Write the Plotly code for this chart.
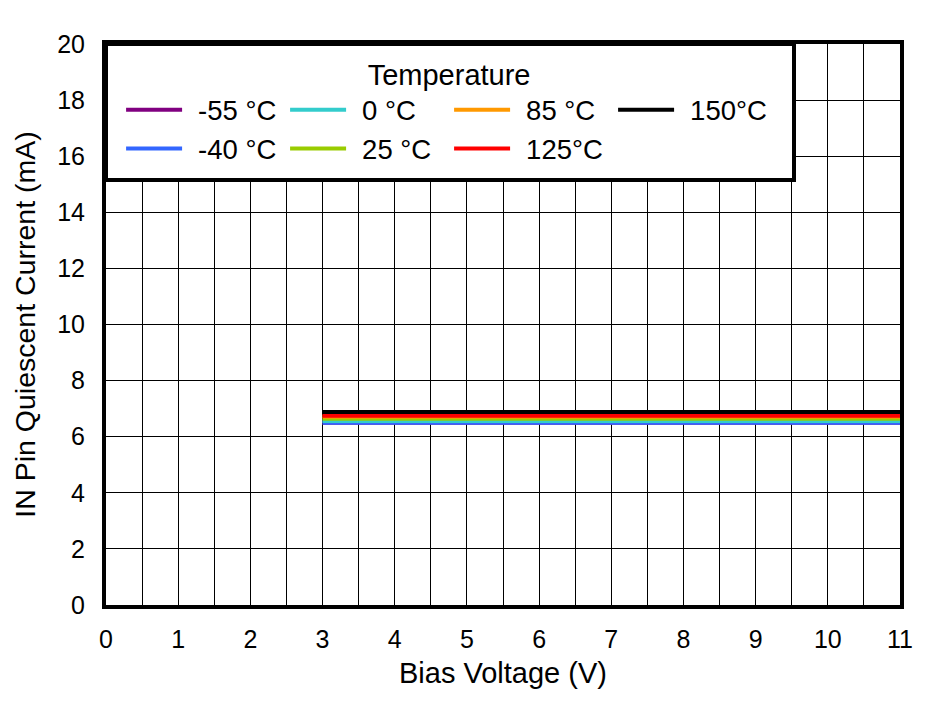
import plotly.graph_objects as go

bias_v = [3, 4, 5, 6, 7, 8, 9, 10, 11]
temps = ["-55 °C", "-40 °C", "0 °C", "25 °C", "85 °C", "125°C", "150°C"]
colors = ["#800080", "#3366FF", "#33CCCC", "#99CC00", "#FF9900", "#FF0000", "#000000"]
iq_m55 = [6.50, 6.50, 6.50, 6.50, 6.50, 6.50, 6.50, 6.50, 6.50]
iq_m40 = [6.50, 6.50, 6.50, 6.50, 6.50, 6.50, 6.50, 6.50, 6.50]
iq_0 = [6.56, 6.56, 6.56, 6.56, 6.56, 6.56, 6.56, 6.56, 6.56]
iq_25 = [6.64, 6.64, 6.64, 6.64, 6.64, 6.64, 6.64, 6.64, 6.64]
iq_85 = [6.71, 6.71, 6.71, 6.71, 6.71, 6.71, 6.71, 6.71, 6.71]
iq_125 = [6.75, 6.75, 6.75, 6.75, 6.75, 6.75, 6.75, 6.75, 6.75]
iq_150 = [6.88, 6.88, 6.88, 6.88, 6.88, 6.88, 6.88, 6.88, 6.88]
series = [iq_m55, iq_m40, iq_0, iq_25, iq_85, iq_125, iq_150]
legend_rank = [1, 5, 2, 6, 3, 7, 4]

FONT = "Liberation Sans, Arial, sans-serif"

fig = go.Figure()
for name, col, ys, rk in zip(temps, colors, series, legend_rank):
    fig.add_trace(go.Scatter(x=bias_v, y=ys, mode="lines", name="\u2009\u2009" + name,
                             line=dict(color=col, width=4), legendrank=rk))

# legend frame
fig.add_shape(type="rect", xref="paper", yref="paper",
              x0=0, x1=0.8665, y0=0.7576, y1=1.0,
              line=dict(color="black", width=4), fillcolor="white", layer="above")

fig.update_layout(
    width=940, height=701,
    margin=dict(l=106, r=40, t=44, b=96),
    plot_bgcolor="white", paper_bgcolor="white",
    font=dict(family=FONT, size=25, color="black"),
    showlegend=True,
    legend=dict(
        orientation="h", x=0.019, y=0.9935, xanchor="left", yanchor="top",
        bgcolor="rgba(0,0,0,0)", borderwidth=0,
        font=dict(size=27.5),
        title=dict(text="Temperature", side="top center", font=dict(size=29)),
        entrywidth=93, itemwidth=56, traceorder="normal",
    ),
    xaxis=dict(
        range=[0, 11], tickvals=list(range(12)),
        showgrid=True, gridcolor="black", gridwidth=1.3,
        minor=dict(tickvals=[i + 0.5 for i in range(11)], showgrid=True,
                   gridcolor="black", gridwidth=1.3),
        showline=True, mirror=True, linecolor="black", linewidth=4,
        ticks="", ticklabelstandoff=9, zeroline=False,
        title=dict(text="Bias Voltage (V)", font=dict(size=29), standoff=12),
    ),
    yaxis=dict(
        range=[0, 20], tickvals=list(range(0, 21, 2)),
        showgrid=True, gridcolor="black", gridwidth=1.3,
        showline=True, mirror=True, linecolor="black", linewidth=4,
        ticks="", ticklabelstandoff=12, zeroline=False,
        title=dict(text="IN Pin Quiescent Current (mA)", font=dict(size=28.5), standoff=14),
    ),
)

fig.write_html("out.html")
